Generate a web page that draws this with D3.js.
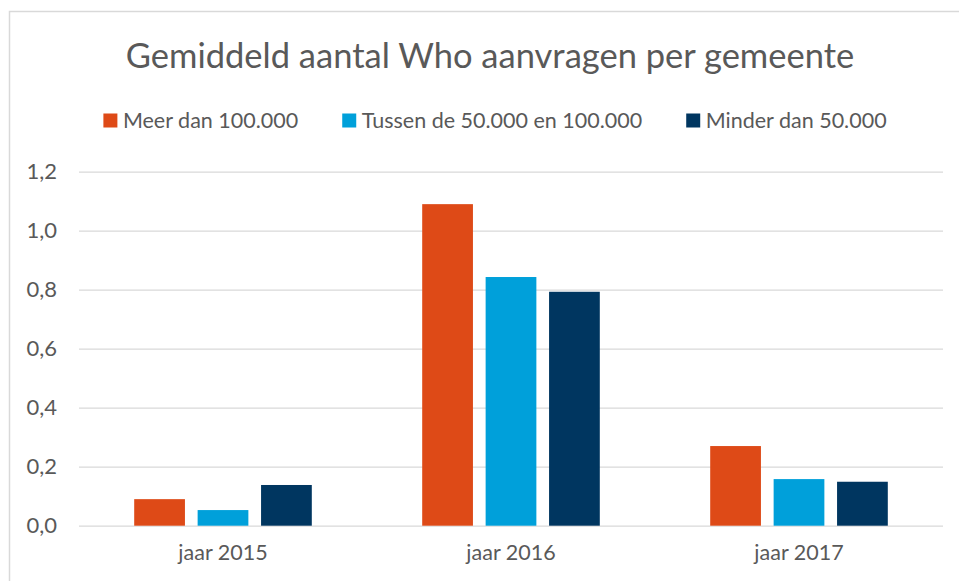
<!DOCTYPE html>
<html>
<head>
<meta charset="utf-8">
<script src="https://cdn.jsdelivr.net/npm/d3@7"></script>
<style>
  body { margin: 0; background: #fff; }
  svg { display: block; font-family: Lato, "Open Sans", sans-serif; }
</style>
</head>
<body>
<svg class="chart"></svg>
<script>
const width = 959,
  height = 581;

const categories = ['jaar 2015', 'jaar 2016', 'jaar 2017'];
const series = ['Meer dan 100.000', 'Tussen de 50.000 en 100.000', 'Minder dan 50.000'];
const meerDan100k = [0.09, 1.09, 0.27];
const tussen50k100k = [0.053, 0.843, 0.158];
const minderDan50k = [0.138, 0.793, 0.149];
const yTicks = [0, 0.2, 0.4, 0.6, 0.8, 1.0, 1.2];
const colors = ['#DE4A17', '#00A0DA', '#003660'];

const values = [meerDan100k, tussen50k100k, minderDan50k];
const rows = categories.map((c, i) => ({
  cat: c,
  vals: series.map((s, j) => ({ key: s, value: values[j][i], color: colors[j] }))
}));

const textColor = '#595959',
  gridColor = '#d9d9d9';

const nl = d3.formatLocale({ decimal: ',', thousands: '.', grouping: [3], currency: ['€', ''] });

let chart = d3.select('.chart')
  .attr('width', width)
  .attr('height', height);

chart.append('rect')
  .attr('width', width)
  .attr('height', height)
  .attr('fill', '#fff');

// chart frame (only top and left edges fall inside the picture)
chart.append('path')
  .attr('d', `M9.5,${height} V11.5 H${width}`)
  .attr('fill', 'none')
  .attr('stroke', gridColor)
  .attr('stroke-width', 1.5);

let y = d3.scaleLinear()
  .domain([0, 1.2])
  .range([525.7, 171.7]);
let x0 = d3.scaleBand()
  .domain(categories)
  .range([79, 943]);
let x1 = d3.scaleBand()
  .domain(series)
  .range([55.2, 232.8])
  .paddingInner(0.2);

// gridlines
chart.append('g')
  .attr('transform', 'translate(79,0)')
  .call(d3.axisLeft(y).tickValues(yTicks).tickSize(-864).tickFormat(''))
  .call(g => g.select('.domain').remove())
  .selectAll('line')
  .attr('stroke', gridColor)
  .attr('stroke-width', 1.3);

// y labels
chart.append('g')
  .attr('transform', 'translate(57,0)')
  .call(d3.axisLeft(y).tickValues(yTicks).tickSize(0).tickPadding(0).tickFormat(nl.format('.1f')))
  .call(g => g.select('.domain').remove())
  .selectAll('text')
  .attr('fill', textColor)
  .attr('font-family', 'Lato, "Open Sans", sans-serif')
  .attr('font-size', 22);

// bars
chart.append('g')
  .selectAll('g')
  .data(rows)
  .join('g')
  .attr('transform', d => `translate(${x0(d.cat)},0)`)
  .selectAll('rect')
  .data(d => d.vals)
  .join('rect')
  .attr('x', d => x1(d.key))
  .attr('y', d => y(d.value))
  .attr('width', x1.bandwidth())
  .attr('height', d => y(0) - y(d.value))
  .attr('fill', d => d.color);

// x labels
chart.append('g')
  .attr('transform', 'translate(0,545)')
  .call(d3.axisBottom(x0).tickSize(0).tickPadding(0))
  .call(g => g.select('.domain').remove())
  .selectAll('text')
  .attr('fill', textColor)
  .attr('font-family', 'Lato, "Open Sans", sans-serif')
  .attr('font-size', 21.5);

// title
chart.append('text')
  .attr('x', 490)
  .attr('y', 68)
  .attr('text-anchor', 'middle')
  .attr('fill', textColor)
  .attr('font-size', 34.5)
  .text('Gemiddeld aantal Who aanvragen per gemeente');

// legend
let legend = chart.append('g');
let lx = 0;
series.forEach((s, i) => {
  let item = legend.append('g').attr('transform', `translate(${lx},0)`);
  item.append('rect')
    .attr('y', 113.5)
    .attr('width', 14)
    .attr('height', 14)
    .attr('fill', colors[i]);
  let t = item.append('text')
    .attr('x', 19.5)
    .attr('y', 128)
    .attr('fill', textColor)
    .attr('font-size', 21.5)
    .text(s);
  lx += 19.5 + t.node().getComputedTextLength() + 44;
});
lx -= 44;
legend.attr('transform', `translate(${495 - lx / 2},0)`);
</script>
</body>
</html>
